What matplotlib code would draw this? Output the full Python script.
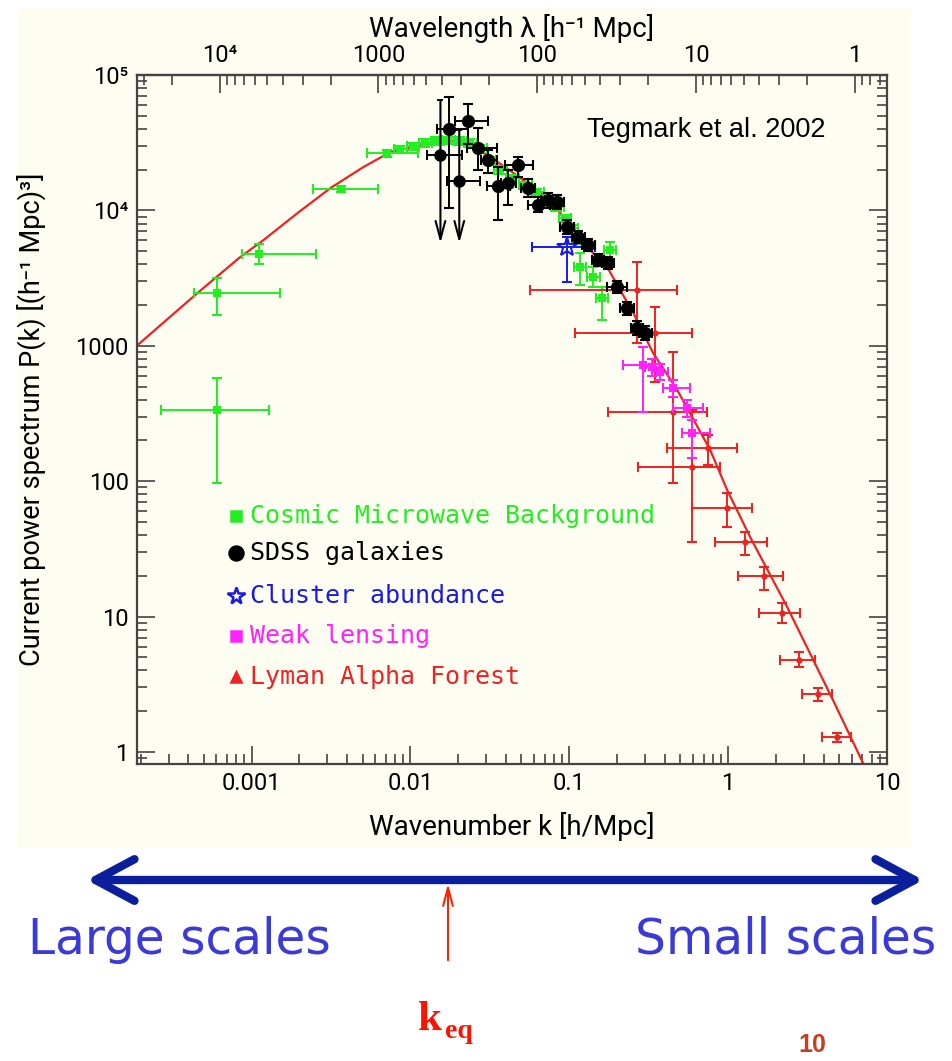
import numpy as np
import matplotlib
matplotlib.use("Agg")
import matplotlib.pyplot as plt
from matplotlib.ticker import FixedLocator, FixedFormatter, LogLocator, NullFormatter
from matplotlib.patches import Rectangle, FancyArrowPatch

# linear-theory model P(k), sampled along the curve
curve_k = [1.92e-4, 4.57e-4, 8.5e-4, 1.19e-3, 1.95e-3, 3.14e-3, 5.06e-3, 7.48e-3,
           0.01044, 0.0171, 0.0238, 0.0318, 0.0445, 0.0658, 0.0878, 0.117, 0.173,
           0.253, 0.337, 0.478, 0.771, 0.986, 1.375, 2.35, 4.57, 7.06]
curve_p = [1014, 2455, 4530, 6040, 9570, 14630, 20900, 27000,
           29400, 33100, 30400, 24800, 18900, 13500, 9570, 6040, 3820,
           1746, 885, 472, 170, 86, 38.7, 11.8, 2.42, 0.83]

# Cosmic Microwave Background
cmb_k   = [6.1e-4, 1.12e-3, 3.63e-3, 7.16e-3, 6.1e-4,
           8.65e-3, 0.01044, 0.0124, 0.0148, 0.01734, 0.0206, 0.0238, 0.0276, 0.0318,
           0.0368, 0.0438, 0.0529, 0.0629, 0.0738, 0.0841, 0.0944, 0.104, 0.114,
           0.181, 0.117, 0.142, 0.161]
cmb_p   = [2455, 4760, 14400, 26500, 336,
           28400, 29900, 31500, 32600, 33100, 32600, 31500, 28900, 23600,
           19900, 17300, 15400, 13700, 11900, 10600, 8790, 7410, 6040,
           5100, 3820, 3220, 2255]
cmb_klo = [4.32e-4, 8.65e-4, 2.45e-3, 5.35e-3, 2.68e-4,
           7.9e-3, 9.5e-3, 0.0113, 0.0135, 0.0158, 0.0188, 0.0217, 0.0252, 0.029,
           0.0336, 0.04, 0.0483, 0.0574, 0.0674, 0.0768, 0.0862, 0.095, 0.104,
           0.166, 0.107, 0.13, 0.147]
cmb_khi = [1.5e-3, 2.53e-3, 6.29e-3, 0.0112, 1.28e-3,
           9.5e-3, 0.0114, 0.0136, 0.0162, 0.019, 0.0226, 0.0261, 0.0302, 0.0348,
           0.0403, 0.048, 0.058, 0.0689, 0.0808, 0.0921, 0.103, 0.114, 0.125,
           0.198, 0.128, 0.155, 0.176]
cmb_plo = [1690, 3990, 13600, 25000, 97,
           26700, 28100, 29600, 30600, 31100, 30600, 29600, 27200, 22200,
           18700, 16300, 14500, 12900, 11200, 9960, 8260, 6970, 5680,
           4160, 2810, 2700, 1550]
cmb_phi = [3170, 5630, 15200, 28000, 578,
           30100, 31700, 33400, 34600, 35100, 34600, 33400, 30600, 25000,
           21100, 18300, 16300, 14500, 12600, 11200, 9320, 7850, 6400,
           5850, 4840, 3800, 2720]

# SDSS galaxies (entries with an arrow are upper limits)
sdss_k   = [0.0176, 0.0232, 0.0268, 0.031, 0.0357, 0.0413, 0.0478, 0.0552, 0.0638,
            0.0738, 0.0841, 0.0971, 0.114, 0.132, 0.152, 0.176, 0.2, 0.232, 0.268, 0.301]
sdss_p   = [39900, 45700, 28900, 23600, 15100, 15900, 21600, 14600, 11000,
            11900, 11500, 7540, 6360, 5550, 4300, 4120, 2720, 1900, 1353, 1244]
sdss_klo = [0.0148, 0.0192, 0.0228, 0.028, 0.0303, 0.037, 0.0396, 0.05, 0.0553,
            0.066, 0.077, 0.088, 0.104, 0.12, 0.139, 0.16, 0.172, 0.21, 0.245, 0.275]
sdss_khi = [0.0232, 0.031, 0.0353, 0.0353, 0.0426, 0.046, 0.0594, 0.061, 0.0757,
            0.082, 0.093, 0.107, 0.125, 0.145, 0.166, 0.19, 0.232, 0.255, 0.29, 0.33]
sdss_plo = [10400, 30700, 19900, 19000, 8490, 11000, 17650, 12500, 9700,
            10500, 10200, 6700, 5700, 5000, 3900, 3700, 2450, 1700, 1200, 1100]
sdss_phi = [68800, 61000, 40600, 28000, 20900, 19900, 24800, 17000, 12500,
            13400, 13000, 8500, 7100, 6150, 4750, 4550, 3000, 2100, 1520, 1400]

lim_k   = [0.01545, 0.0203]
lim_p   = [25700, 16500]
lim_klo = [0.0128, 0.0171]
lim_khi = [0.0212, 0.0276]
lim_phi = [65400, 39300]
lim_tip = [5740, 5740]

# cluster abundance
clus_k, clus_p = [0.0971], [5370]
clus_klo, clus_khi = [0.0585], [0.146]
clus_plo, clus_phi = [2960], [6360]

# weak lensing
wl_k   = [0.292, 0.333, 0.373, 0.451, 0.552, 0.594]
wl_p   = [721, 697, 640, 488, 347, 227]
wl_klo = [0.219, 0.30, 0.33, 0.390, 0.451, 0.514]
wl_khi = [0.337, 0.37, 0.42, 0.577, 0.697, 0.771]
wl_plo = [324, 600, 560, 420, 300, 148]
wl_phi = [980, 800, 730, 560, 400, 283]

# Lyman alpha forest
lya_k   = [0.268, 0.348, 0.451, 0.594, 0.748, 0.986, 1.28, 1.68, 2.19, 2.80, 3.68, 4.85]
lya_p   = [2580, 1244, 324, 127, 176, 63.4, 35.6, 19.9, 10.6, 4.78, 2.68, 1.29]
lya_klo = [0.0569, 0.109, 0.176, 0.272, 0.413, 0.594, 0.828, 1.16, 1.57, 2.12, 2.92, 3.90]
lya_khi = [0.478, 0.594, 0.738, 0.891, 1.14, 1.42, 1.76, 2.22, 2.84, 3.52, 4.51, 5.94]
lya_plo = [1050, 540, 97, 35.6, 132, 45.9, 28.5, 15.7, 8.97, 4.25, 2.38, 1.19]
lya_phi = [4160, 1935, 900, 336, 219, 81.8, 42.2, 23.3, 12.6, 5.48, 2.97, 1.38]

legend_names = ["Cosmic Microwave Background", "SDSS galaxies", "Cluster abundance",
                "Weak lensing", "Lyman Alpha Forest"]

GREEN = "#22ee22"
BLACK = "#000000"
BLUE = "#1a1ae6"
MAGENTA = "#ff22ff"
RED = "#ee2222"
CREAM = "#fdfdf1"
FRAME = "#444444"

axis_font = ["Roboto", "DejaVu Sans"]

W, H = 952, 1061
fx = lambda px: px / W
fy = lambda py: 1 - py / H

fig = plt.figure(figsize=(W / 100, H / 100), dpi=100)
fig.patches.append(Rectangle((fx(18), fy(846)), fx(910) - fx(18), fy(8) - fy(846),
                             transform=fig.transFigure, color=CREAM, zorder=-5))

ax = fig.add_axes([fx(137), fy(764), fx(887) - fx(137), fy(75) - fy(764)])
ax.set_zorder(2)
ax.set_facecolor(CREAM)
ax.set_xscale("log")
ax.set_yscale("log")
ax.set_xlim(1.9e-4, 10)
ax.set_ylim(0.815, 1e5)

ax.plot(curve_k, curve_p, color=RED, lw=1.6, zorder=2)


def bars(k, p, klo, khi, plo, phi, color, fmt, ms, mfc=None, z=3):
    k, p = np.array(k), np.array(p)
    xerr = [k - np.array(klo), np.array(khi) - k]
    yerr = [p - np.array(plo), np.array(phi) - p]
    ax.errorbar(k, p, xerr=xerr, yerr=yerr, fmt=fmt, color=color, ms=ms,
                mfc=mfc if mfc else color, mew=1.5, elinewidth=1.4, capsize=3.5,
                capthick=1.4, zorder=z)


bars(cmb_k, cmb_p, cmb_klo, cmb_khi, cmb_plo, cmb_phi, GREEN, "s", 4.5)
bars(lya_k, lya_p, lya_klo, lya_khi, lya_plo, lya_phi, RED, "o", 3, z=3)
bars(wl_k, wl_p, wl_klo, wl_khi, wl_plo, wl_phi, MAGENTA, "s", 4, z=4)
bars(clus_k, clus_p, clus_klo, clus_khi, clus_plo, clus_phi, BLUE, "*", 15, mfc="none", z=4)
bars(sdss_k, sdss_p, sdss_klo, sdss_khi, sdss_plo, sdss_phi, BLACK, "o", 8, z=5)

# upper limits: horizontal bin plus a downward arrow
lk, lp = np.array(lim_k), np.array(lim_p)
ax.errorbar(lk, lp, xerr=[lk - np.array(lim_klo), np.array(lim_khi) - lk], fmt="o",
            color=BLACK, ms=8, elinewidth=1.4, capsize=3.5, capthick=1.4, zorder=5)
for k, top, tip in zip(lim_k, lim_phi, lim_tip):
    ax.plot([k * 0.97, k * 1.03], [top, top], color=BLACK, lw=1.4, zorder=5)
    ax.annotate("", xy=(k, tip), xytext=(k, top),
                arrowprops=dict(arrowstyle="->,head_length=1.3,head_width=0.35",
                                color=BLACK, lw=1.5, shrinkA=0, shrinkB=0), zorder=5)

# legend
leg_colors = [GREEN, BLACK, BLUE, MAGENTA, RED]
leg_markers = ["s", "o", "*", "s", "^"]
leg_ms = [7, 10, 13, 7, 7]
leg_y = [0.360, 0.306, 0.244, 0.186, 0.126]
for name, c, m, s, y in zip(legend_names, leg_colors, leg_markers, leg_ms, leg_y):
    ax.plot([0.132], [y], transform=ax.transAxes, marker=m, ms=s, color=c,
            mfc="none" if m == "*" else c, mew=1.8, ls="none")
    ax.text(0.151, y, name, transform=ax.transAxes, color=c, va="center", ha="left",
            family="DejaVu Sans Mono", fontsize=18)

ax.text(0.6, 0.92, "Tegmark et al. 2002", transform=ax.transAxes, va="center",
        family=["Liberation Sans", "DejaVu Sans"], fontsize=19.5)

# axes, ticks and labels
ax.yaxis.set_major_locator(FixedLocator([1, 10, 100, 1000, 1e4, 1e5]))
ax.yaxis.set_major_formatter(FixedFormatter(["1", "10", "100", "1000", "10⁴", "10⁵"]))
ax.yaxis.set_minor_locator(LogLocator(base=10, subs=np.arange(2, 10) * 1.0, numticks=50))
ax.yaxis.set_minor_formatter(NullFormatter())
ax.xaxis.set_major_locator(FixedLocator([1e-3, 1e-2, 0.1, 1, 10]))
ax.xaxis.set_major_formatter(FixedFormatter(["0.001", "0.01", "0.1", "1", "10"]))
ax.xaxis.set_minor_locator(LogLocator(base=10, subs=np.arange(2, 10) * 1.0, numticks=50))
ax.xaxis.set_minor_formatter(NullFormatter())
ax.tick_params(which="both", direction="in", color=FRAME, width=1.2, right=True,
               labelsize=17, pad=6)
ax.tick_params(which="major", length=13)
ax.tick_params(which="minor", length=7)
for lab in ax.get_xticklabels() + ax.get_yticklabels():
    lab.set_family(axis_font)
for sp in ax.spines.values():
    sp.set_color(FRAME)
    sp.set_linewidth(1.6)

ax.set_xlabel("Wavenumber k [h/Mpc]", family=axis_font, fontsize=20)
ax.xaxis.set_label_coords(0.5, -0.069)
ax.set_ylabel("Current power spectrum P(k) [(h⁻¹ Mpc)³]", family=axis_font, fontsize=19.5)
ax.yaxis.set_label_coords(-0.121, 0.5)


def k_to_lam(k):
    k = np.asarray(k, dtype=float)
    with np.errstate(divide="ignore"):
        return 2 * np.pi / k


sec = ax.secondary_xaxis("top", functions=(k_to_lam, k_to_lam))
sec.xaxis.set_major_locator(FixedLocator([1e4, 1e3, 100, 10, 1]))
sec.xaxis.set_major_formatter(FixedFormatter(["10⁴", "1000", "100", "10", "1"]))
sec.xaxis.set_minor_locator(LogLocator(base=10, subs=np.arange(2, 10) * 1.0, numticks=50))
sec.xaxis.set_minor_formatter(NullFormatter())
sec.tick_params(which="both", direction="in", color=FRAME, width=1.2, labelsize=17, pad=6)
sec.tick_params(which="major", length=13)
sec.tick_params(which="minor", length=7)
for lab in sec.get_xticklabels():
    lab.set_family(axis_font)
sec.spines["top"].set_color(FRAME)
sec.spines["top"].set_linewidth(1.6)
sec.set_xlabel("Wavelength λ [h⁻¹ Mpc]", family=axis_font, fontsize=20, labelpad=5)

# scale arrow and annotations below the plot
fig.patches.append(FancyArrowPatch(
    (fx(84), fy(880)), (fx(926), fy(880)), transform=fig.transFigure,
    arrowstyle="<->,head_length=2.8,head_width=1.5", mutation_scale=10,
    color="#0b1e9c", lw=6, capstyle="round", joinstyle="round"))
fig.patches.append(FancyArrowPatch(
    (fx(448), fy(963)), (fx(448), fy(881)), transform=fig.transFigure,
    arrowstyle="->,head_length=1.3,head_width=0.35", mutation_scale=10,
    color="#ff2200", lw=1.5))

fig.text(fx(28), fy(940), "Large scales", fontsize=35, color="#3a3ad8", va="center", ha="left")
fig.text(fx(936), fy(940), "Small scales", fontsize=35, color="#3a3ad8", va="center", ha="right")
serif = ["Liberation Serif", "DejaVu Serif"]
fig.text(fx(418), fy(1030), "k", family=serif, weight="bold", fontsize=31, color="#ff1100",
         ha="left", va="baseline")
fig.text(fx(445), fy(1038), "eq", family=serif, weight="bold", fontsize=20, color="#ff1100",
         ha="left", va="baseline")
fig.text(fx(812), fy(1045), "10", weight="bold", fontsize=18, color="#c4401c",
         ha="center", va="center", family=["Liberation Sans", "DejaVu Sans"])

fig.savefig("out.png", dpi=100, facecolor="white")
